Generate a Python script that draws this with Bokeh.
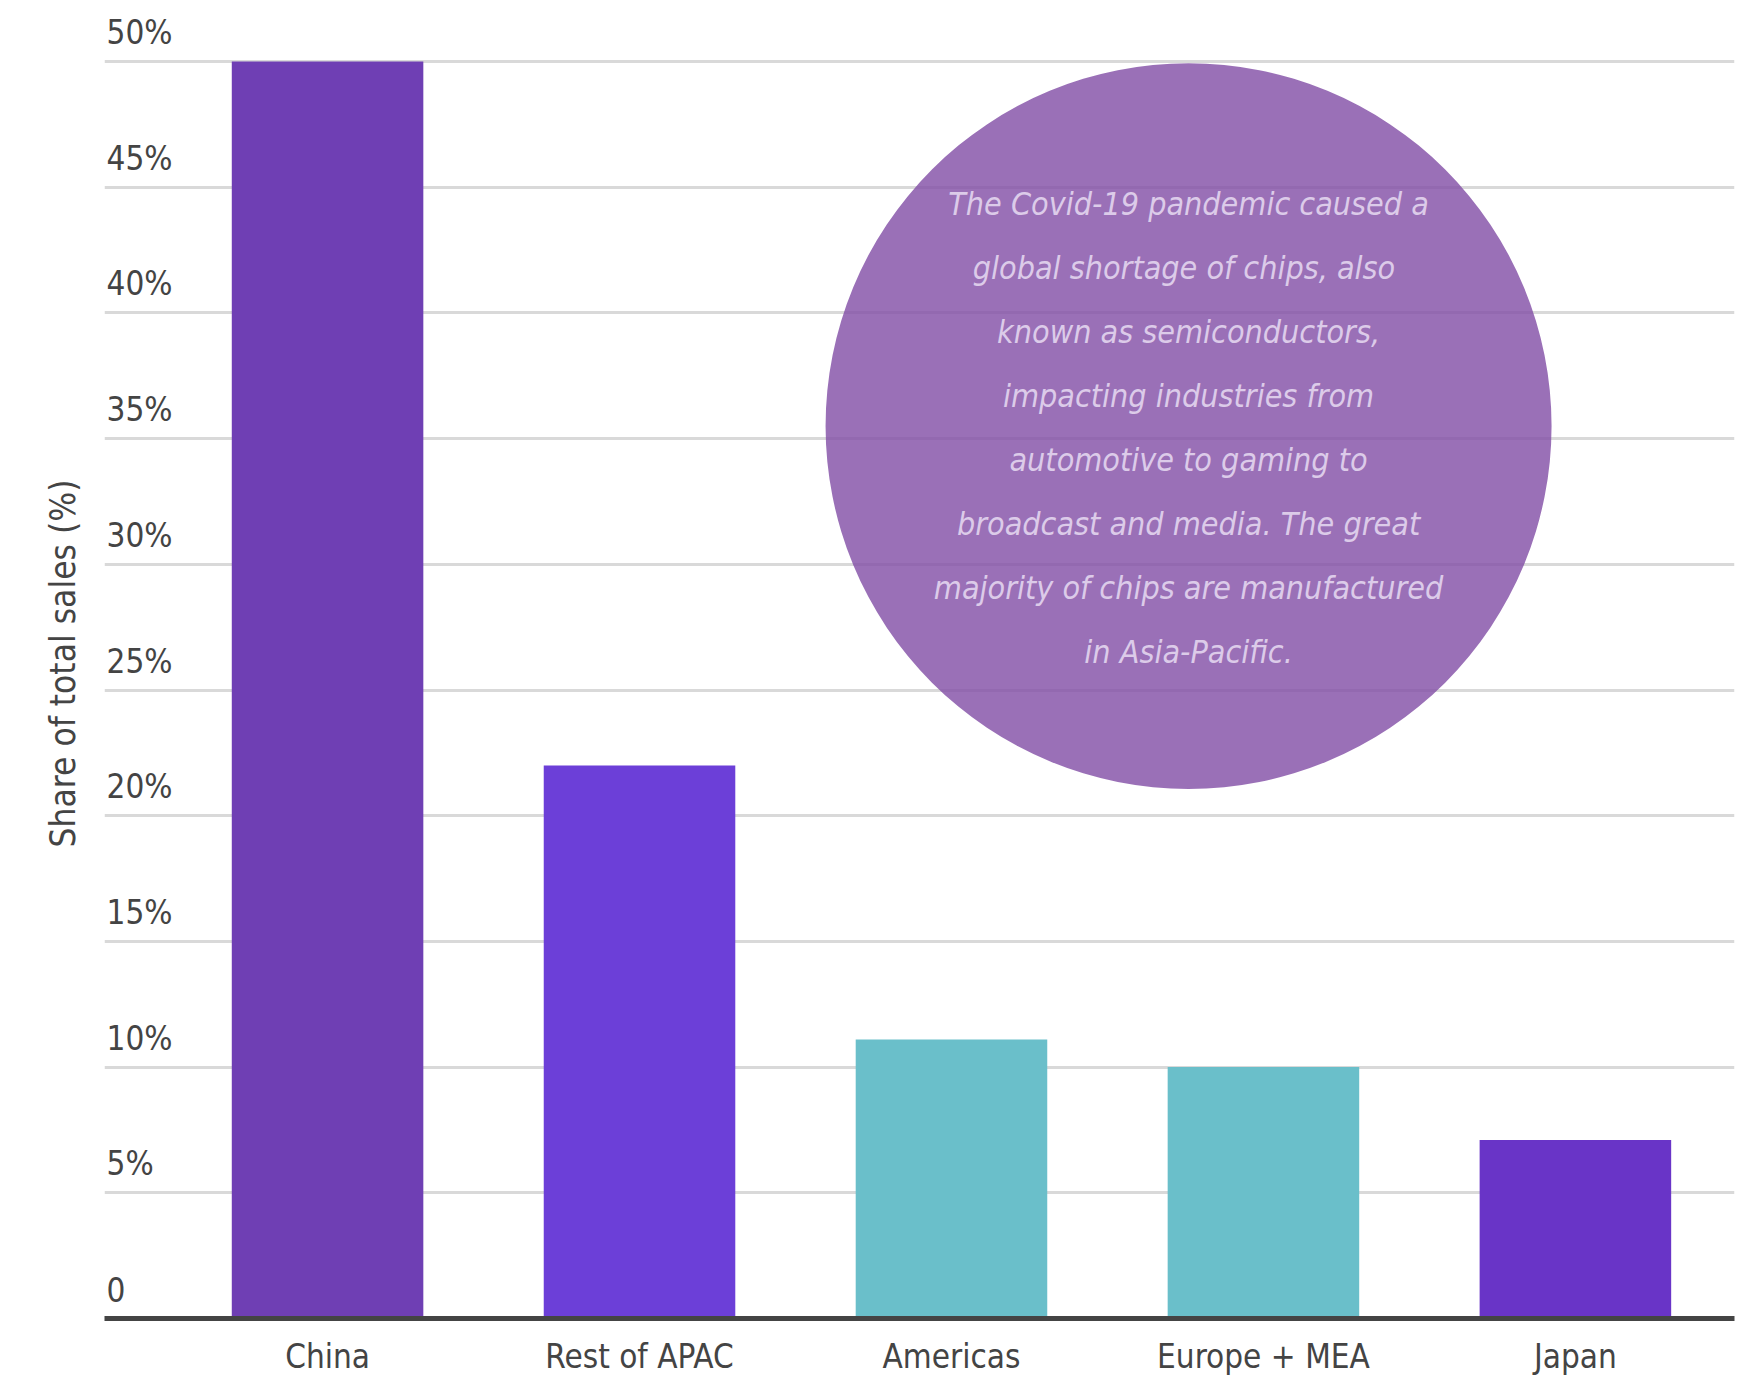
from bokeh.plotting import figure
from bokeh.models import FixedTicker, ColumnDataSource, Range1d
from bokeh.embed import file_html
from bokeh.resources import INLINE
from bokeh.core.properties import value

# ---- data ----
regions = ["China", "Rest of APAC", "Americas", "Europe + MEA", "Japan"]
shares = [50, 22, 11.1, 10, 7.1]
bar_colors = ["#6f3fb4", "#6c3fd8", "#6abfca", "#6abfca", "#6934c7"]
y_ticks = [0, 5, 10, 15, 20, 25, 30, 35, 40, 45, 50]
y_tick_labels = ["0", "5%", "10%", "15%", "20%", "25%", "30%", "35%", "40%", "45%", "50%"]
note_lines = [
    "The Covid-19 pandemic caused a",
    "global shortage of chips,  also",
    "known as semiconductors,",
    "impacting industries from",
    "automotive to gaming to",
    "broadcast and media. The great",
    "majority of chips are manufactured",
    "in Asia-Pacific.",
]
y_title = "Share of total sales (%)"

# ---- style ----
FONT = "DejaVu Sans Condensed"
TXT = "#444444"
X_START, X_END = -0.715, 4.51
Y_START, Y_END = 0, 52.11

p = figure(width=1740, height=1380, output_backend="svg", toolbar_location=None,
           x_range=Range1d(X_START, X_END), y_range=Range1d(Y_START, Y_END),
           min_border_left=104, min_border_right=6, min_border_top=8, min_border_bottom=62)
p.outline_line_color = None
p.background_fill_color = "white"
p.border_fill_color = "white"

# grid
p.xgrid.visible = False
p.ygrid.ticker = FixedTicker(ticks=y_ticks)
p.ygrid.grid_line_color = "#d9d9d9"
p.ygrid.grid_line_width = 3

# bars
xs = list(range(len(regions)))
src = ColumnDataSource(dict(x=xs, top=shares, color=bar_colors))
p.vbar(x="x", top="top", bottom=0, width=0.614, fill_color="color", line_color=None, source=src)

# y tick labels inside the plot, above grid lines
p.text(x=[X_START] * len(y_ticks), y=y_ticks, text=y_tick_labels,
       x_offset=2, y_offset=-29, text_align="left", text_baseline="middle",
       text_font=value(FONT), text_font_size="33px", text_color=TXT)

# annotation bubble
cx, cy = 2.76, 35.5
p.scatter(x=[cx], y=[cy], size=726, marker="circle",
          fill_color="#814ca5", fill_alpha=0.8, line_color=None)
n = len(note_lines)
p.text(x=[cx] * n, y=[cy] * n, text=note_lines,
       y_offset=[(i - (n - 1) / 2) * 64 + 2 for i in range(n)],
       text_align="center", text_baseline="middle",
       text_font=value(FONT), text_font_style="italic", text_font_size="32px",
       text_color="#dccbe9")

# x axis
xa = p.xaxis[0]
xa.ticker = FixedTicker(ticks=xs)
xa.major_label_overrides = {i: r for i, r in zip(xs, regions)}
xa.axis_line_color = TXT
xa.axis_line_width = 5
xa.major_tick_line_color = None
xa.minor_tick_line_color = None
xa.major_tick_out = 0
xa.major_tick_in = 0
xa.major_label_standoff = 18
xa.major_label_text_font = FONT
xa.major_label_text_font_size = "33px"
xa.major_label_text_color = TXT

# y axis: title only
ya = p.yaxis[0]
ya.ticker = FixedTicker(ticks=[])
ya.axis_line_color = None
ya.major_tick_line_color = None
ya.minor_tick_line_color = None
ya.major_tick_out = 0
ya.major_tick_in = 0
ya.major_label_standoff = 0
ya.axis_label = y_title
ya.axis_label_standoff = 22
ya.axis_label_text_font = FONT
ya.axis_label_text_font_style = "normal"
ya.axis_label_text_font_size = "35px"
ya.axis_label_text_color = TXT

open("out.html", "w").write(file_html(p, INLINE))
